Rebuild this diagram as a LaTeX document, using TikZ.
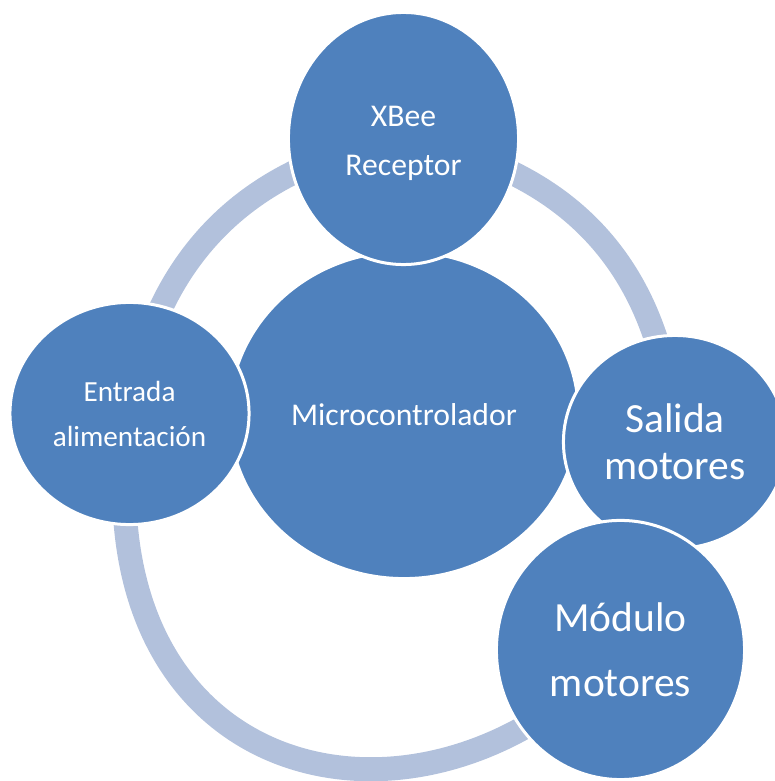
\documentclass[tikz,border=0pt]{standalone}
\usepackage{fontspec}
\setmainfont{Carlito}
\usetikzlibrary{shapes.geometric,backgrounds}
\definecolor{nodeblue}{HTML}{4F81BD}
\definecolor{ringblue}{HTML}{B2C1DC}
\begin{document}
\begin{tikzpicture}[x=0.01cm,y=0.01cm,
  bubble/.style={ellipse, fill=nodeblue, draw=white, line width=0.03cm,
    inner sep=0pt, text=white, align=center},
  ringarc/.style={draw=ringblue, line width=0.24cm}]
\useasboundingbox (0,0) rectangle (775,781);
\node[bubble, minimum width=3.49cm, minimum height=3.27cm,
  font=\fontsize{9}{13}\selectfont] (micro) at (404,366) {Microcontrolador};
\node[bubble, minimum width=2.30cm, minimum height=2.52cm,
  font=\fontsize{9}{13.94}\selectfont] (xbee) at (403.5,642.5) {\rule{0pt}{8.6pt}XBee\\Receptor};
\node[bubble, minimum width=2.39cm, minimum height=2.22cm,
  font=\fontsize{8.3}{12.8}\selectfont] (entrada) at (129.5,367.5) {Entrada\\alimentación};
\node[bubble, minimum width=2.23cm, minimum height=2.13cm,
  font=\fontsize{11.8}{13.4}\selectfont] (salida) at (675,339) {Salida\\motores};
\node[bubble, minimum width=2.48cm, minimum height=2.59cm,
  font=\fontsize{11.8}{18.5}\selectfont] (modulo) at (620.5,131) {Módulo\\motores};
\begin{scope}[on background layer]
\draw[ringarc] (entrada.center) to[bend left=36, looseness=1.04] (xbee.center);
\draw[ringarc] (xbee.center) to[bend left=38, looseness=1.08] (salida.center);
\draw[ringarc] (entrada.center) to[out=262, in=228, out distance=3.8cm, in distance=2.9cm] (modulo.center);
\end{scope}
\end{tikzpicture}
\end{document}
